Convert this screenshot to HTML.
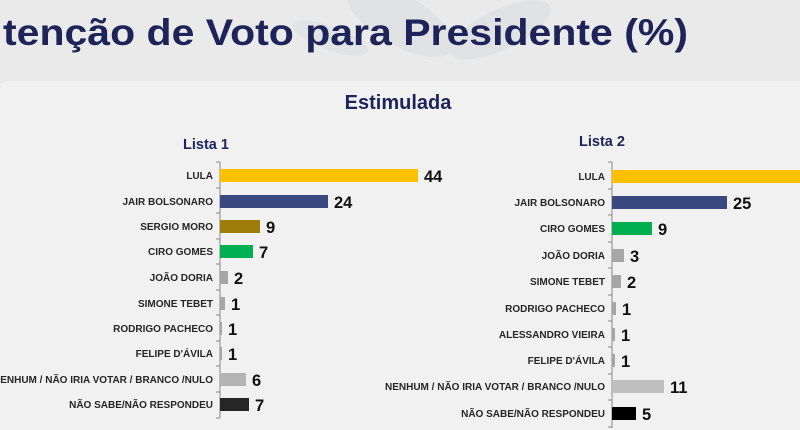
<!DOCTYPE html>
<html><head><meta charset="utf-8"><style>
html,body{margin:0;padding:0;width:800px;height:430px;overflow:hidden;background:#eaeaea}
svg{display:block}
text{font-family:"Liberation Sans",sans-serif;font-weight:bold}
.l{font-size:10px;fill:#262626;text-anchor:end}
.v{font-size:16.5px;fill:#111}
</style></head><body>
<svg width="800" height="430" viewBox="0 0 800 430">
<rect width="800" height="430" fill="#eaeaea"/>
<ellipse cx="400" cy="20" rx="60" ry="25" fill="#e0e2e4" transform="rotate(30 400 20)"/>
<ellipse cx="330" cy="38" rx="40" ry="12" fill="#e1e3e5" transform="rotate(20 330 38)"/>
<ellipse cx="500" cy="30" rx="55" ry="20" fill="#e0e2e4" transform="rotate(-25 500 30)"/>
<rect x="0" y="81" width="810" height="360" rx="8" fill="#f1f1f1"/>
<text x="3" y="45" font-size="37" fill="#1c2459" textLength="685" lengthAdjust="spacingAndGlyphs">tenção de Voto para Presidente (%)</text>
<text x="398" y="109" font-size="20" fill="#1c2459" text-anchor="middle">Estimulada</text>
<text x="183" y="149" font-size="14.5" fill="#1c2459">Lista 1</text>
<text x="579" y="146" font-size="14.5" fill="#1c2459">Lista 2</text>
<!-- left axis -->
<g stroke="#888" stroke-width="1">
<line x1="220" y1="162" x2="220" y2="418"/>
<path d="M216 162H220M216 188H220M216 213H220M216 239H220M216 264H220M216 290H220M216 315H220M216 341H220M216 366H220M216 392H220M216 418H220"/>
<line x1="612" y1="162" x2="612" y2="428"/>
<path d="M608 162H612M608 189H612M608 215H612M608 242H612M608 268H612M608 295H612M608 321H612M608 347H612M608 374H612M608 400H612M608 427H612"/>
</g>
<g>
<rect x="220" y="169" width="198" height="13" fill="#ffc000"/><text class="l" x="213" y="179">LULA</text><text class="v" x="424" y="182">44</text>
<rect x="220" y="195" width="108" height="13" fill="#3a4a80"/><text class="l" x="213" y="205">JAIR BOLSONARO</text><text class="v" x="334" y="208">24</text>
<rect x="220" y="220" width="40" height="13" fill="#9e7c0a"/><text class="l" x="213" y="230">SERGIO MORO</text><text class="v" x="266" y="233">9</text>
<rect x="220" y="245" width="33" height="13" fill="#00b050"/><text class="l" x="213" y="255">CIRO GOMES</text><text class="v" x="259" y="258">7</text>
<rect x="220" y="271" width="8" height="13" fill="#a6a6a6"/><text class="l" x="213" y="281">JOÃO DORIA</text><text class="v" x="234" y="284">2</text>
<rect x="220" y="297" width="5" height="13" fill="#a6a6a6"/><text class="l" x="213" y="307">SIMONE TEBET</text><text class="v" x="231" y="310">1</text>
<rect x="220" y="322" width="2" height="13" fill="#a6a6a6"/><text class="l" x="213" y="332">RODRIGO PACHECO</text><text class="v" x="228" y="335">1</text>
<rect x="220" y="347" width="2" height="13" fill="#a6a6a6"/><text class="l" x="213" y="357">FELIPE D'ÁVILA</text><text class="v" x="228" y="360">1</text>
<rect x="220" y="373" width="26" height="13" fill="#b4b4b4"/><text class="l" x="213" y="383">NENHUM / NÃO IRIA VOTAR / BRANCO /NULO</text><text class="v" x="252" y="386">6</text>
<rect x="220" y="398" width="29" height="13" fill="#262626"/><text class="l" x="213" y="408">NÃO SABE/NÃO RESPONDEU</text><text class="v" x="255" y="411">7</text>
</g>
<g>
<rect x="612" y="170" width="200" height="13" fill="#ffc000"/><text class="l" x="605" y="180">LULA</text>
<rect x="612" y="196" width="115" height="13" fill="#3a4a80"/><text class="l" x="605" y="206">JAIR BOLSONARO</text><text class="v" x="733" y="209">25</text>
<rect x="612" y="222" width="40" height="13" fill="#00b050"/><text class="l" x="605" y="232">CIRO GOMES</text><text class="v" x="658" y="235">9</text>
<rect x="612" y="249" width="12" height="13" fill="#a6a6a6"/><text class="l" x="605" y="259">JOÃO DORIA</text><text class="v" x="630" y="262">3</text>
<rect x="612" y="275" width="9" height="13" fill="#a6a6a6"/><text class="l" x="605" y="285">SIMONE TEBET</text><text class="v" x="627" y="288">2</text>
<rect x="612" y="302" width="4" height="13" fill="#a6a6a6"/><text class="l" x="605" y="312">RODRIGO PACHECO</text><text class="v" x="622" y="315">1</text>
<rect x="612" y="328" width="3" height="13" fill="#a6a6a6"/><text class="l" x="605" y="338">ALESSANDRO VIEIRA</text><text class="v" x="621" y="341">1</text>
<rect x="612" y="354" width="3" height="13" fill="#a6a6a6"/><text class="l" x="605" y="364">FELIPE D'ÁVILA</text><text class="v" x="621" y="367">1</text>
<rect x="612" y="380" width="52" height="13" fill="#bfbfbf"/><text class="l" x="605" y="390">NENHUM / NÃO IRIA VOTAR / BRANCO /NULO</text><text class="v" x="670" y="393">11</text>
<rect x="612" y="407" width="24" height="13" fill="#000"/><text class="l" x="605" y="417">NÃO SABE/NÃO RESPONDEU</text><text class="v" x="642" y="420">5</text>
</g>
</svg>
</body></html>
